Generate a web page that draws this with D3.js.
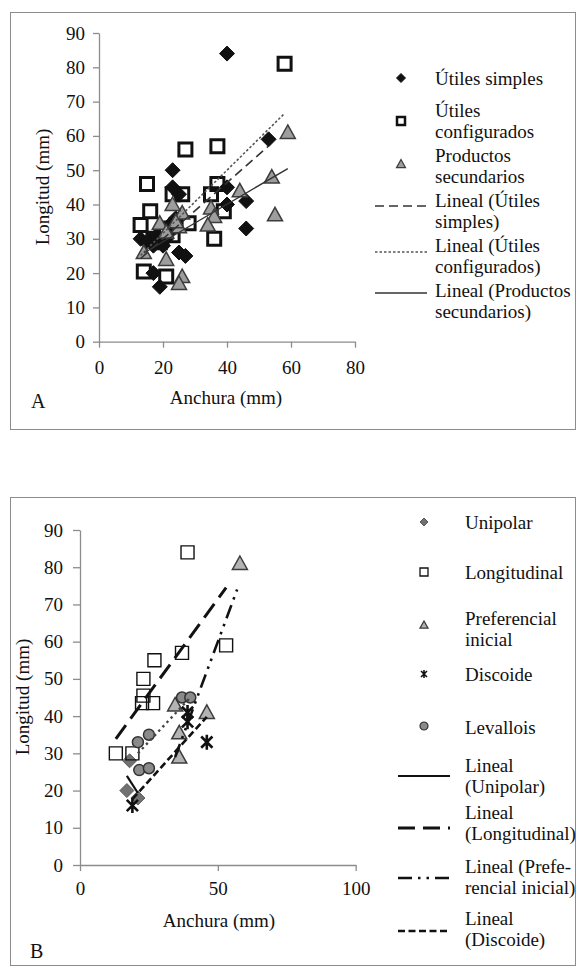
<!DOCTYPE html>
<html>
<head>
<meta charset="utf-8">
<script src="https://cdn.jsdelivr.net/npm/d3@7"></script>
<style>
body { margin: 0; background: #fff; }
text { font-family: "Liberation Serif", "Times New Roman", serif; fill: #111; }
</style>
</head>
<body>
<svg id="chart" width="577" height="969"></svg>
<script>
'use strict';

// ---- Panel A : [anchura, longitud] ----
const utilesSimples = [[40,84],[53,59],[23,50],[23,45],[25,43],[40,45],[46,41],[40,40],[46,33],
	[24,36],[22,34],[13,30],[16,30],[18,31],[21,30],[17,28],[20,28],[15,29],[25,26],[27,25],
	[17,20],[19,16],[22,32],[19,29]];
const utilesConfigurados = [[58,81],[37,57],[27,56],[15,46],[23,43],[26,43],[35,43],[37,46],[39,38],
	[16,38],[13,34],[28,34.5],[36,30],[14,20.5],[21,19],[17,30],[19,29],[23,31],[21,33]];
const productosSecundarios = [[59,61],[54,48],[44,44],[55,37],[35,39],[36,36.5],[34,34],[26,37.5],
	[23,40],[25,33.5],[19,34.5],[14,26],[21,24],[26,19],[25,17],[21,32],[24,35]];
// trendlines: [slope, intercept, xmin, xmax]
const linealSimples = [0.82, 13.6, 13, 53];
const linealConfigurados = [0.92, 13.2, 13, 58];
const linealProductos = [0.547, 18.2, 14, 59];

// ---- Panel B ----
const unipolar = [[17,20],[18,28],[21,18]];
const longitudinal = [[39,84],[53,59],[37,57],[27,55],[23,50],[23,45.5],[22.5,43.5],[26.5,43.5],[13,30],[19,30]];
const preferencial = [[58,81],[34.5,43],[46,41],[36,35.5],[36,29]];
const discoide = [[19,16],[46,33],[39,38.5],[39,41]];
const levallois = [[37,45],[40,45],[21,33],[25,35],[21.5,25.5],[25,26]];
const linealUnipolar = [-1.15, 43.5, 17, 21];
const linealLongitudinal = [1.015, 20.7, 13, 53];
const linealPreferencial = [2.0, -40, 34.5, 57];
const linealDiscoide = [0.82, 2.1, 19, 46];
const linealLevallois = [0.79, 13.4, 21, 40];

const xTicksA = [0, 20, 40, 60, 80];
const xTicksB = [0, 50, 100];
const yTicks = [0, 10, 20, 30, 40, 50, 60, 70, 80, 90];

const svg = d3.select("#chart");
const FONT = 19;
const AXIS_GREY = "#8c8c8c";

function markerPath(kind, r) {
	let p = d3.path();
	if (kind == "diamond") {
		p.moveTo(0, -r); p.lineTo(r, 0); p.lineTo(0, r); p.lineTo(-r, 0); p.closePath();
	} else if (kind == "square") {
		p.rect(-r, -r, 2 * r, 2 * r);
	} else if (kind == "triangle") {
		p.moveTo(0, -r); p.lineTo(r, r * 0.8); p.lineTo(-r, r * 0.8); p.closePath();
	} else if (kind == "star") {
		let d = r * 0.75;
		p.moveTo(0, -r); p.lineTo(0, r);
		p.moveTo(-d, -d); p.lineTo(d, d);
		p.moveTo(-d, d); p.lineTo(d, -d);
	} else if (kind == "circle") {
		p.arc(0, 0, r, 0, 2 * Math.PI);
	}
	return p.toString();
}

function applyStyle(sel, st) {
	sel.attr("fill", st.fill || "none")
		.attr("stroke", st.stroke || "none")
		.attr("stroke-width", st.width || 1)
		.attr("stroke-dasharray", st.dash || null)
		.attr("stroke-linejoin", "miter");
}

function drawPoints(g, data, x, y, st) {
	g.append("g").selectAll("path")
		.data(data)
		.enter().append("path")
		.attr("transform", d => "translate(" + x(d[0]) + "," + y(d[1]) + ")")
		.attr("d", markerPath(st.kind, st.r))
		.call(applyStyle, st);
}

function drawTrend(g, coef, x, y, st) {
	let ends = [coef[2], coef[3]].map(v => [v, coef[0] * v + coef[1]]);
	g.append("path")
		.datum(ends)
		.attr("d", d3.line().x(d => x(d[0])).y(d => y(d[1])))
		.call(applyStyle, st);
}

function drawAxes(g, x, y, xt, opt) {
	let ax = g.append("g")
		.attr("transform", "translate(0," + y(0) + ")")
		.call(d3.axisBottom(x).tickValues(xt).tickSize(6).tickSizeOuter(0).tickPadding(opt.xPad));
	let ay = g.append("g")
		.attr("transform", "translate(" + x(0) + ",0)")
		.call(d3.axisLeft(y).tickValues(yTicks).tickSize(opt.yTick).tickSizeOuter(0).tickPadding(opt.yPad));
	for (let a of [ax, ay]) {
		a.attr("font-size", FONT).attr("font-family", null);
		a.selectAll("path, line").attr("stroke", AXIS_GREY).attr("stroke-width", 1.3);
		a.selectAll("text").attr("fill", "#111");
	}
}

function drawLegend(g, entries, mx, x0, x1, tx) {
	for (let e of entries) {
		if (e.line) {
			g.append("line").attr("x1", x0).attr("x2", x1).attr("y1", e.my).attr("y2", e.my)
				.call(applyStyle, e.st);
		} else {
			g.append("path")
				.attr("transform", "translate(" + mx + "," + e.my + ")")
				.attr("d", markerPath(e.st.kind, e.r))
				.call(applyStyle, Object.assign({}, e.st, {width: e.w}));
		}
		e.text.forEach((t, i) => {
			g.append("text").attr("x", tx).attr("y", e.ty + i * 21.5).attr("dy", "0.35em")
				.attr("font-size", FONT).text(t);
		});
	}
}

function addLabels(g, xc, xy, yx, yc, panel, px, py) {
	g.append("text").attr("x", xc).attr("y", xy).attr("dy", "0.35em")
		.attr("text-anchor", "middle").attr("font-size", FONT).text("Anchura (mm)");
	g.append("text").attr("transform", "translate(" + yx + "," + yc + ") rotate(-90)")
		.attr("dy", "0.35em").attr("text-anchor", "middle").attr("font-size", FONT).text("Longitud (mm)");
	g.append("text").attr("x", px).attr("y", py).attr("dy", "0.35em")
		.attr("font-size", FONT + 1).text(panel);
}

// ---------------- Panel A ----------------
const gA = svg.append("g");
gA.append("rect").attr("x", 10.5).attr("y", 12.5).attr("width", 565).attr("height", 417)
	.attr("fill", "none").attr("stroke", AXIS_GREY);

const xA = d3.scaleLinear().domain([0, 80]).range([99, 355]);
const yA = d3.scaleLinear().domain([0, 90]).range([341.7, 33]);
drawAxes(gA, xA, yA, xTicksA, {xPad: 13, yTick: 6, yPad: 8});

const stSimples = {kind: "diamond", r: 7.5, fill: "#111", stroke: "#111", width: 1};
const stConfig = {kind: "square", r: 6.5, fill: "none", stroke: "#111", width: 3};
const stProd = {kind: "triangle", r: 7.5, fill: "#9d9d9d", stroke: "#3c3c3c", width: 1.5};
drawPoints(gA, utilesSimples, xA, yA, stSimples);
drawPoints(gA, utilesConfigurados, xA, yA, stConfig);
drawPoints(gA, productosSecundarios, xA, yA, stProd);

const stLinSimples = {stroke: "#333", width: 1.6, dash: "9,5"};
const stLinConfig = {stroke: "#555", width: 1.6, dash: "2.5,2"};
const stLinProd = {stroke: "#333", width: 1.4};
drawTrend(gA, linealSimples, xA, yA, stLinSimples);
drawTrend(gA, linealConfigurados, xA, yA, stLinConfig);
drawTrend(gA, linealProductos, xA, yA, stLinProd);

drawLegend(gA, [
	{text: ["Útiles simples"], ty: 78, my: 78, st: stSimples, r: 4.5, w: 1},
	{text: ["Útiles", "configurados"], ty: 110, my: 121, st: stConfig, r: 4, w: 2.5},
	{text: ["Productos", "secundarios"], ty: 155, my: 164, st: stProd, r: 4.5, w: 1.2},
	{text: ["Lineal (Útiles", "simples)"], ty: 200, my: 206, st: stLinSimples, line: true},
	{text: ["Lineal (Útiles", "configurados)"], ty: 245, my: 252, st: stLinConfig, line: true},
	{text: ["Lineal (Productos", "secundarios)"], ty: 290, my: 293, st: stLinProd, line: true}
], 401, 375, 427, 435);

addLabels(gA, 226, 397, 42, 187, "A", 31, 401);

// ---------------- Panel B ----------------
const gB = svg.append("g");
gB.append("rect").attr("x", 10.5).attr("y", 497.5).attr("width", 565).attr("height", 468)
	.attr("fill", "none").attr("stroke", AXIS_GREY);

const xB = d3.scaleLinear().domain([0, 100]).range([80, 355.7]);
const yB = d3.scaleLinear().domain([0, 90]).range([865, 530]);
drawAxes(gB, xB, yB, xTicksB, {xPad: 11, yTick: 7, yPad: 10});

const stUni = {kind: "diamond", r: 7, fill: "#717171", stroke: "#5a5a5a", width: 1};
const stLong = {kind: "square", r: 6.5, fill: "none", stroke: "#111", width: 1.4};
const stPref = {kind: "triangle", r: 7.5, fill: "#b3b3b3", stroke: "#3c3c3c", width: 1.5};
const stDisc = {kind: "star", r: 7.5, fill: "none", stroke: "#111", width: 2.6};
const stLev = {kind: "circle", r: 5.5, fill: "#8a8a8a", stroke: "#333", width: 1.5};
drawPoints(gB, unipolar, xB, yB, stUni);
drawPoints(gB, longitudinal, xB, yB, stLong);
drawPoints(gB, preferencial, xB, yB, stPref);
drawPoints(gB, discoide, xB, yB, stDisc);
drawPoints(gB, levallois, xB, yB, stLev);

const stLinUni = {stroke: "#111", width: 2.2};
const stLinLong = {stroke: "#111", width: 3, dash: "17,8"};
const stLinPref = {stroke: "#111", width: 2.6, dash: "14,6,2.5,6,2.5,6"};
const stLinDisc = {stroke: "#111", width: 2.6, dash: "7,3.5"};
const stLinLev = {stroke: "#444", width: 2.4, dash: "2.4,3.6"};
drawTrend(gB, linealUnipolar, xB, yB, stLinUni);
drawTrend(gB, linealLongitudinal, xB, yB, stLinLong);
drawTrend(gB, linealPreferencial, xB, yB, stLinPref);
drawTrend(gB, linealDiscoide, xB, yB, stLinDisc);
drawTrend(gB, linealLevallois, xB, yB, stLinLev);

drawLegend(gB, [
	{text: ["Unipolar"], ty: 522, my: 522, st: stUni, r: 4, w: 1},
	{text: ["Longitudinal"], ty: 572, my: 572, st: stLong, r: 4, w: 1.3},
	{text: ["Preferencial", "inicial"], ty: 618, my: 625, st: stPref, r: 4, w: 1.3},
	{text: ["Discoide"], ty: 674, my: 674, st: stDisc, r: 4, w: 1.6},
	{text: ["Levallois"], ty: 727, my: 726, st: stLev, r: 4, w: 1.2},
	{text: ["Lineal", "(Unipolar)"], ty: 765, my: 776, st: stLinUni, line: true},
	{text: ["Lineal", "(Longitudinal)"], ty: 812, my: 828, st: stLinLong, line: true},
	{text: ["Lineal (Prefe-", "rencial inicial)"], ty: 866, my: 878, st: stLinPref, line: true},
	{text: ["Lineal", "(Discoide)"], ty: 918, my: 931, st: stLinDisc, line: true}
], 424, 398, 450, 465);

addLabels(gB, 219, 920, 22, 697, "B", 30, 951);
</script>
</body>
</html>
